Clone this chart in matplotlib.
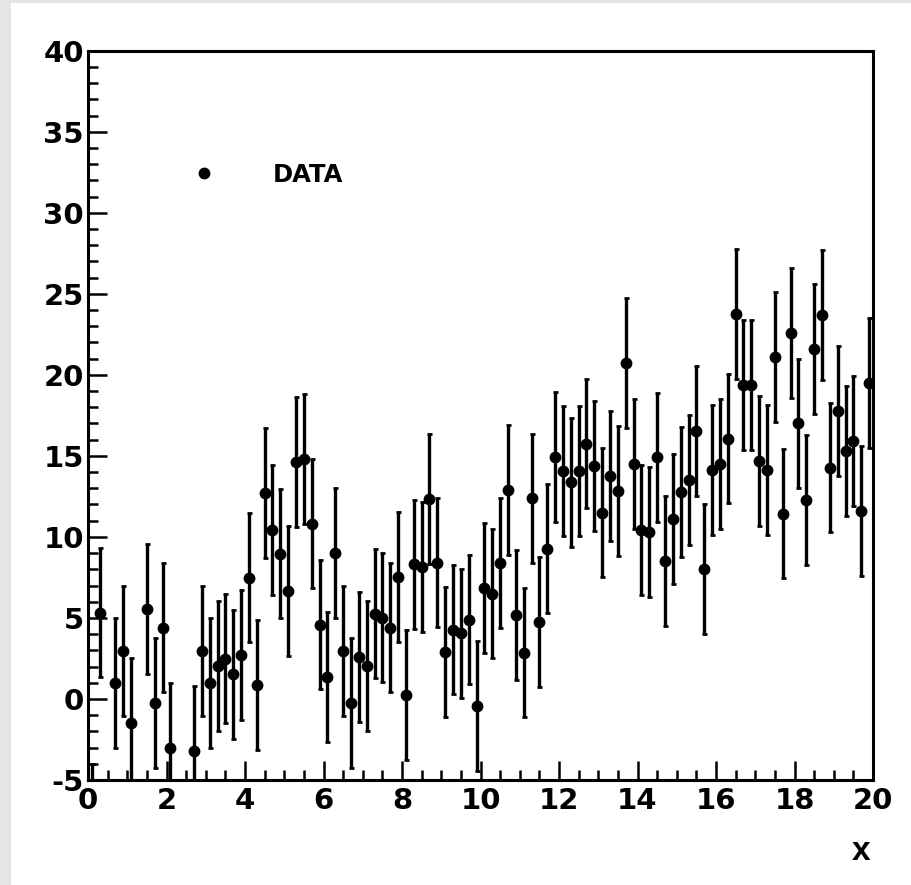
import matplotlib
matplotlib.use("Agg")
import matplotlib.pyplot as plt
from matplotlib.patches import Rectangle
from matplotlib.lines import Line2D
from matplotlib.ticker import MultipleLocator
import numpy as np

plt.rcParams["axes.unicode_minus"] = False

# ---- data (bin centres, values, errors) ----
x_vals = [0.1, 0.3, 0.7, 0.9, 1.1, 1.5, 1.7, 1.9, 2.1, 2.7,
          2.9, 3.1, 3.3, 3.5, 3.7, 3.9, 4.1, 4.3, 4.5, 4.7,
          4.9, 5.1, 5.3, 5.5, 5.7, 5.9, 6.1, 6.3, 6.5, 6.7,
          6.9, 7.1, 7.3, 7.5, 7.7, 7.9, 8.1, 8.3, 8.5, 8.7,
          8.9, 9.1, 9.3, 9.5, 9.7, 9.9, 10.1, 10.3, 10.5, 10.7,
          10.9, 11.1, 11.3, 11.5, 11.7, 11.9, 12.1, 12.3, 12.5, 12.7,
          12.9, 13.1, 13.3, 13.5, 13.7, 13.9, 14.1, 14.3, 14.5, 14.7,
          14.9, 15.1, 15.3, 15.5, 15.7, 15.9, 16.1, 16.3, 16.5, 16.7,
          16.9, 17.1, 17.3, 17.5, 17.7, 17.9, 18.1, 18.3, 18.5, 18.7,
          18.9, 19.1, 19.3, 19.5, 19.7, 19.9]
y_vals = [-8.0, 5.33, 0.99, 2.94, -1.48, 5.56, -0.25, 4.40, -3.02, -3.23,
          2.94, 0.99, 2.04, 2.49, 1.52, 2.70, 7.49, 0.85, 12.72, 10.41,
          8.97, 6.65, 14.63, 14.80, 10.82, 4.59, 1.36, 9.01, 2.94, -0.25,
          2.60, 2.04, 5.27, 5.02, 4.40, 7.53, 0.23, 8.30, 8.15, 12.33,
          8.42, 2.90, 4.28, 4.04, 4.90, -0.43, 6.84, 6.50, 8.40, 12.88,
          5.17, 2.86, 12.37, 4.75, 9.28, 14.94, 14.06, 13.36, 14.06, 15.76,
          14.38, 11.50, 13.77, 12.84, 20.74, 14.49, 10.41, 10.31, 14.90, 8.52,
          11.09, 12.76, 13.50, 16.52, 8.00, 14.12, 14.49, 16.07, 23.75, 19.36,
          19.36, 14.69, 14.12, 21.11, 11.44, 22.59, 17.00, 12.27, 21.59, 23.69,
          14.28, 17.76, 15.29, 15.90, 11.60, 19.51]
y_errs = [4.0] * len(y_vals)

legend_label = "DATA"
x_title = "x"
xlim = (0, 20)
ylim = (-5, 40)
x_major = [0, 2, 4, 6, 8, 10, 12, 14, 16, 18, 20]
y_major = [-5, 0, 5, 10, 15, 20, 25, 30, 35, 40]

TICK_FONT = "DejaVu Sans"
TITLE_FONT = "Liberation Sans"

fig = plt.figure(figsize=(9.12, 8.85), dpi=100)
fig.patch.set_facecolor("#e5e5e5")
pad_rect = Rectangle((11 / 912, 0), 1 - 11 / 912, 1 - 3 / 885,
                     transform=fig.transFigure, facecolor="white",
                     edgecolor="none", zorder=-10)
fig.add_artist(pad_rect)

ax = fig.add_axes([88 / 912, 1 - 780 / 885, 785 / 912, (780 - 50.7) / 885])
ax.set_facecolor("white")
ax.set_zorder(1)

ax.errorbar(x_vals, y_vals, yerr=y_errs, fmt="o", color="black",
            markersize=7.5, elinewidth=2.4, capsize=1.8, capthick=2.0,
            ecolor="black", zorder=3)

ax.set_xlim(*xlim)
ax.set_ylim(*ylim)
ax.set_xticks(x_major)
ax.set_yticks(y_major)
ax.xaxis.set_minor_locator(MultipleLocator(0.5))
ax.yaxis.set_minor_locator(MultipleLocator(1))
ax.tick_params(which="both", direction="in", top=False, right=False,
               width=1.8, color="black")
ax.tick_params(which="major", length=14)
ax.tick_params(which="minor", length=7)
ax.tick_params(axis="y", which="major", pad=3.0)
ax.tick_params(axis="x", which="major", pad=5)
for lab in ax.get_xticklabels() + ax.get_yticklabels():
    lab.set_fontfamily(TICK_FONT)
    lab.set_fontweight("bold")
    lab.set_fontsize(21)
for sp in ax.spines.values():
    sp.set_linewidth(2.2)
    sp.set_color("black")

ax.set_xlabel(x_title, fontfamily=TITLE_FONT, fontweight="bold", fontsize=24,
              ha="center", va="center")
ax.xaxis.set_label_coords((861 - 88) / 785, (780 - 851) / 729.3)

handle = Line2D([], [], marker="o", linestyle="none", color="black",
                markersize=7.5)
leg = ax.legend([handle], [legend_label], loc="center left",
                bbox_to_anchor=((180 - 88) / 785, (780 - 175) / 729.3),
                frameon=False, borderpad=0, borderaxespad=0,
                handlelength=2.0, handletextpad=1.8,
                prop={"family": TICK_FONT, "weight": "bold", "size": 17.5})

fig.savefig("out.png", dpi=100, facecolor=fig.get_facecolor())
